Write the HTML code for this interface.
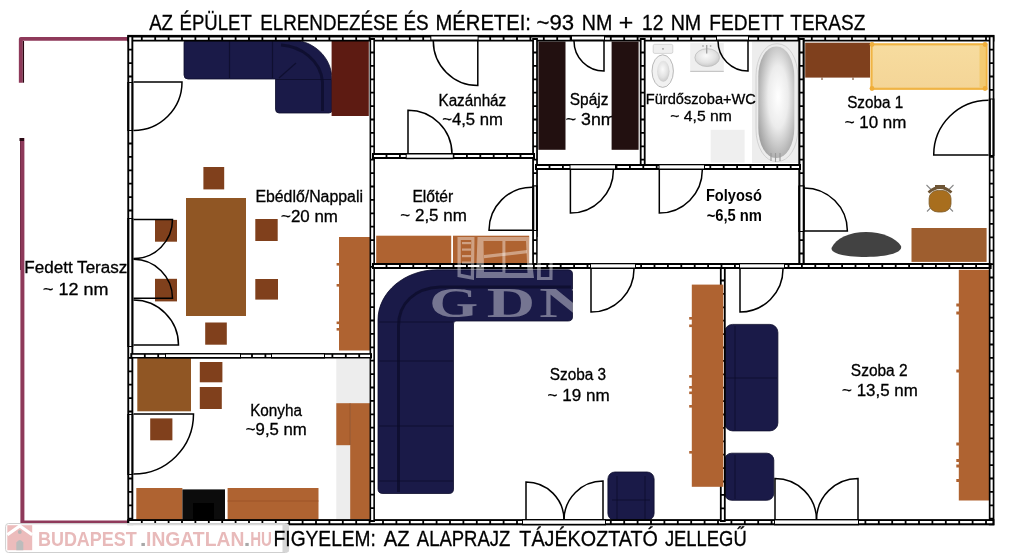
<!DOCTYPE html>
<html><head><meta charset="utf-8"><title>Alaprajz</title>
<style>html,body{margin:0;padding:0;background:#fff;} svg{display:block;will-change:transform;}</style></head>
<body><svg width="1024" height="558" viewBox="0 0 1024 558">
<rect x="0" y="0" width="1024" height="558" fill="#fff"/>
<defs>
<radialGradient id="tub" cx="55%" cy="45%" r="62%"><stop offset="0" stop-color="#ffffff"/><stop offset="0.45" stop-color="#ececec"/><stop offset="0.8" stop-color="#bdbdbd"/><stop offset="1" stop-color="#a2a2a2"/></radialGradient>
<radialGradient id="bowl" cx="50%" cy="50%" r="55%"><stop offset="0" stop-color="#f4f4f4"/><stop offset="0.6" stop-color="#dcdcdc"/><stop offset="1" stop-color="#a9a9a9"/></radialGradient>
<radialGradient id="basin" cx="45%" cy="40%" r="65%"><stop offset="0" stop-color="#fafafa"/><stop offset="0.6" stop-color="#e2e2e2"/><stop offset="1" stop-color="#c4c4c4"/></radialGradient>
<linearGradient id="bed" x1="0" y1="0" x2="0" y2="1"><stop offset="0" stop-color="#f7dc9f"/><stop offset="1" stop-color="#f4d597"/></linearGradient>
</defs>
<path d="M20.8,82.7 L20.8,38.9 L130,38.9" fill="none" stroke="#8e395a" stroke-width="3.9" stroke-linejoin="round"/>
<line x1="23.4" y1="41" x2="23.4" y2="82.7" stroke="#2a0612" stroke-width="1.3"/>
<line x1="20.6" y1="141" x2="20.6" y2="270" stroke="#4a0f24" stroke-width="1.1"/>
<path d="M22.4,138 L22.4,522.6 L131,522.6" fill="none" stroke="#8e395a" stroke-width="4"/>
<rect x="19.5" y="138" width="4.5" height="3" fill="#2a0a14"/>
<path d="M186,39.5 L289,39.5 C312,39.5 332,56 332,80 L332,110 Q332,113 329,113 L279,113 Q275.5,113 275.5,109 L275.5,79 L188,79 Q184,79 184,75 L184,43 Q184,39.5 186,39.5 Z" fill="#1a1a48" stroke="#0e0e2c" stroke-width="0.8"/>
<path d="M229.5,41 L229.5,78 M272.5,41 L272.5,78 M276,79.5 L331,79.5 M279,78 L296,63" stroke="#0c0c2a" stroke-width="1.2" fill="none" opacity="0.8"/>
<path d="M281,45 C300,46 321,60 322.5,82 L322.5,111" stroke="#0c0c2a" stroke-width="3" fill="none" opacity="0.75"/>
<path d="M186,40.5 L286,40.5" stroke="#0c0c2a" stroke-width="2" fill="none" opacity="0.5"/>
<rect x="331.60" y="40.70" width="37.20" height="75.30" fill="#5d1b12" />
<rect x="186.00" y="198.00" width="60.00" height="118.00" fill="#905624" />
<rect x="203.40" y="167.00" width="20.80" height="22.40" fill="#80401c" />
<rect x="155.00" y="219.90" width="22.00" height="21.80" fill="#80401c" />
<rect x="255.30" y="219.00" width="22.40" height="22.00" fill="#80401c" />
<rect x="155.00" y="278.80" width="22.00" height="22.60" fill="#80401c" />
<rect x="255.30" y="279.00" width="22.70" height="20.60" fill="#80401c" />
<rect x="205.20" y="322.50" width="21.60" height="22.20" fill="#80401c" />
<rect x="339.00" y="237.00" width="31.00" height="113.50" fill="#af6331" />
<rect x="336.60" y="263.00" width="2.60" height="2.60" fill="#af6331" />
<rect x="336.60" y="284.00" width="2.60" height="2.60" fill="#af6331" />
<rect x="336.60" y="321.50" width="2.60" height="2.60" fill="#af6331" />
<rect x="336.60" y="328.00" width="2.60" height="2.60" fill="#af6331" />
<rect x="137.30" y="358.00" width="53.70" height="53.30" fill="#905624" />
<rect x="199.80" y="362.00" width="22.60" height="20.30" fill="#80401c" />
<rect x="199.80" y="387.00" width="22.00" height="22.00" fill="#80401c" />
<rect x="150.20" y="418.40" width="22.20" height="21.90" fill="#80401c" />
<rect x="336.30" y="358.70" width="33.30" height="161.30" fill="#ededed" />
<rect x="336.30" y="403.20" width="13.90" height="42.00" fill="#af6331" />
<rect x="350.20" y="403.20" width="20.00" height="116.20" fill="#af6331" />
<line x1="350.2" y1="403.2" x2="350.2" y2="445" stroke="#8a4a22" stroke-width="0.8"/>
<rect x="136.30" y="488.00" width="46.10" height="32.00" fill="#af6331" />
<rect x="182.40" y="489.40" width="42.60" height="30.60" fill="#0c0c0c" />
<rect x="193.00" y="503.00" width="21.00" height="17.00" fill="#000" />
<rect x="227.60" y="488.00" width="90.90" height="32.00" fill="#af6331" />
<line x1="227.6" y1="501" x2="318.5" y2="501" stroke="#9a5226" stroke-width="0.8"/>
<rect x="538.40" y="41.50" width="27.10" height="108.30" fill="#221010" />
<rect x="752.00" y="41.50" width="46.50" height="121.50" fill="#ededed" />
<rect x="756" y="43.8" width="41.8" height="117.7" rx="20" ry="32" fill="#ececec" stroke="#c6c6c6" stroke-width="0.7"/>
<rect x="758.3" y="46.5" width="36" height="111.5" rx="17.5" ry="30" fill="url(#tub)"/>
<path d="M771,153 L771,161 M775.5,153 L775.5,162 M780,153 L780,161" stroke="#9a9a9a" stroke-width="1.1"/>
<rect x="710.70" y="129.80" width="33.90" height="32.80" fill="#efefef" />
<rect x="690.20" y="43.10" width="33.60" height="27.70" fill="#efefef" />
<line x1="690.2" y1="71.3" x2="723.8" y2="71.3" stroke="#b0b0b0" stroke-width="0.9"/>
<ellipse cx="707.2" cy="57.6" rx="12.3" ry="8.9" fill="url(#basin)" stroke="#bdbdbd" stroke-width="0.8"/>
<line x1="706.7" y1="45" x2="706.7" y2="53.5" stroke="#a0a0a0" stroke-width="1.3"/>
<circle cx="703" cy="46" r="0.9" fill="#b0b0b0"/><circle cx="710.6" cy="46" r="0.9" fill="#b0b0b0"/>
<rect x="653.2" y="44.3" width="19.6" height="9.1" rx="1.5" fill="#efefef" stroke="#c8c8c8" stroke-width="0.7"/>
<circle cx="663" cy="48.8" r="0.9" fill="#9a9a9a"/>
<ellipse cx="662.7" cy="71.1" rx="10.7" ry="16.3" fill="#f1f1f1" stroke="#a8a8a8" stroke-width="0.8"/>
<ellipse cx="663.3" cy="71.3" rx="6.2" ry="10.5" fill="url(#basin)"/>
<rect x="805.20" y="42.70" width="64.80" height="34.90" fill="#7f401d" />
<rect x="871.5" y="44.3" width="115" height="44.5" fill="url(#bed)" stroke="#f0b444" stroke-width="2.2"/>
<rect x="979.5" y="45.5" width="6" height="42" fill="#f3c768" opacity="0.8"/>
<circle cx="872" cy="44.5" r="2.4" fill="#f0ae3a"/>
<circle cx="872" cy="88.5" r="2.4" fill="#f0ae3a"/>
<circle cx="985" cy="44.5" r="2.4" fill="#f0ae3a"/>
<circle cx="985" cy="88.5" r="2.4" fill="#f0ae3a"/>
<path d="M822,77.6 L822,80 M853,77.6 L853,80" stroke="#6a3a1a" stroke-width="1"/>
<path d="M831.5,248 C836,238 850,232 866,232 C882,232 896,238 901,246 C903,252 890,256.5 866,257 C846,257 831,254 831.5,248 Z" fill="#424242"/>
<rect x="911.50" y="228.00" width="75.10" height="33.90" fill="#9e5e2f" />
<path d="M926.5,185 L931,189.5 M953.5,185 L949,189.5 M927,211.5 L930.5,208 M953,211.5 L949.5,208" stroke="#8a8a8a" stroke-width="1.1"/>
<rect x="929.1" y="190.4" width="21.9" height="21.6" rx="9" ry="8" fill="#a86e1e" stroke="#7b5a2a" stroke-width="0.8"/>
<path d="M928.5,192.5 Q940,182.5 951.5,192.5" stroke="#6e5535" stroke-width="2.8" fill="none"/>
<path d="M935,186 L945,186" stroke="#6e5535" stroke-width="2"/>
<rect x="376.20" y="235.70" width="75.00" height="27.90" fill="#af6331" />
<rect x="453.00" y="235.70" width="76.20" height="27.90" fill="#af6331" />
<path d="M437,269.8 L568,269.8 Q572.5,269.8 572.5,274 L572.5,317 Q572.5,321 568,321 L456,321 Q453.5,321 453.5,324 L453.5,489 Q453.5,493.5 449,493.5 L383,493.5 Q378,493.5 378,489 L378,320 C378,292 405,269.8 437,269.8 Z" fill="#1a1a48" stroke="#0e0e2c" stroke-width="0.8"/>
<path d="M398.5,492 L398.5,326 C398.5,303 415,288 440,287 L571,287" stroke="#0c0c2a" stroke-width="3" fill="none" opacity="0.75"/>
<path d="M379,322 L453,322 M379,361 L453,361 M379,426 L453,426 M379,481 L453,481" stroke="#0c0c2a" stroke-width="1.2" fill="none" opacity="0.7"/>
<rect x="607.9" y="472" width="46.2" height="48.4" rx="7" fill="#1a1a48" stroke="#0e0e2c" stroke-width="0.8"/>
<path d="M612,500 L650,500 M617,476 L617,519 M645,476 L645,519" stroke="#0c0c2a" stroke-width="1" fill="none" opacity="0.7"/>
<rect x="724.6" y="324.4" width="53.3" height="106.5" rx="8" fill="#1a1a48" stroke="#0e0e2c" stroke-width="0.8"/>
<path d="M725,378 L777,378 M735,326 L735,430" stroke="#0c0c2a" stroke-width="1" fill="none" opacity="0.7"/>
<rect x="724.6" y="453.2" width="49.2" height="47.1" rx="7" fill="#1a1a48" stroke="#0e0e2c" stroke-width="0.8"/>
<path d="M735,455 L735,499" stroke="#0c0c2a" stroke-width="1" fill="none" opacity="0.7"/>
<rect x="958.80" y="269.80" width="30.50" height="230.70" fill="#af6331" />
<rect x="956.30" y="303.50" width="2.70" height="3.00" fill="#af6331" />
<rect x="956.30" y="311.50" width="2.70" height="3.00" fill="#af6331" />
<rect x="956.30" y="369.50" width="2.70" height="3.00" fill="#af6331" />
<rect x="956.30" y="442.50" width="2.70" height="3.00" fill="#af6331" />
<rect x="956.30" y="459.00" width="2.70" height="3.00" fill="#af6331" />
<rect x="956.30" y="464.50" width="2.70" height="3.00" fill="#af6331" />
<rect x="956.30" y="479.00" width="2.70" height="3.00" fill="#af6331" />
<rect x="127.30" y="34.90" width="867.10" height="6.60" fill="#000" />
<line x1="129.30" y1="38.70" x2="992.40" y2="38.70" stroke="#fff" stroke-width="2.2" stroke-dasharray="11.6 1.8"/>
<rect x="127.30" y="35.20" width="6.00" height="490.10" fill="#000" />
<line x1="130.30" y1="37.20" x2="130.30" y2="523.30" stroke="#fff" stroke-width="2.2" stroke-dasharray="11.6 1.8"/>
<rect x="988.80" y="35.20" width="5.60" height="490.10" fill="#000" />
<line x1="991.60" y1="37.20" x2="991.60" y2="523.30" stroke="#fff" stroke-width="2.2" stroke-dasharray="11.6 1.8"/>
<rect x="127.30" y="519.10" width="867.10" height="6.20" fill="#000" />
<line x1="129.30" y1="522.20" x2="992.40" y2="522.20" stroke="#fff" stroke-width="2.2" stroke-dasharray="11.6 1.8"/>
<rect x="369.55" y="38.00" width="5.40" height="484.00" fill="#000" />
<line x1="372.25" y1="40.00" x2="372.25" y2="520.00" stroke="#fff" stroke-width="2.2" stroke-dasharray="11.6 1.8"/>
<rect x="532.20" y="38.00" width="5.70" height="228.00" fill="#000" />
<line x1="535.05" y1="40.00" x2="535.05" y2="264.00" stroke="#fff" stroke-width="2.2" stroke-dasharray="11.6 1.8"/>
<rect x="639.80" y="38.00" width="5.80" height="129.00" fill="#000" />
<line x1="642.70" y1="40.00" x2="642.70" y2="165.00" stroke="#fff" stroke-width="2.2" stroke-dasharray="11.6 1.8"/>
<rect x="798.30" y="38.00" width="6.40" height="228.00" fill="#000" />
<line x1="801.50" y1="40.00" x2="801.50" y2="264.00" stroke="#fff" stroke-width="2.2" stroke-dasharray="11.6 1.8"/>
<rect x="719.90" y="266.00" width="5.80" height="256.00" fill="#000" />
<line x1="722.80" y1="268.00" x2="722.80" y2="520.00" stroke="#fff" stroke-width="2.2" stroke-dasharray="11.6 1.8"/>
<rect x="372.00" y="153.00" width="163.00" height="6.00" fill="#000" />
<line x1="374.00" y1="156.00" x2="533.00" y2="156.00" stroke="#fff" stroke-width="2.2" stroke-dasharray="11.6 1.8"/>
<rect x="535.00" y="164.00" width="266.00" height="6.00" fill="#000" />
<line x1="537.00" y1="167.00" x2="799.00" y2="167.00" stroke="#fff" stroke-width="2.2" stroke-dasharray="11.6 1.8"/>
<rect x="372.00" y="263.00" width="619.60" height="6.00" fill="#000" />
<line x1="374.00" y1="266.00" x2="989.60" y2="266.00" stroke="#fff" stroke-width="2.2" stroke-dasharray="11.6 1.8"/>
<rect x="130.30" y="353.10" width="241.70" height="5.40" fill="#000" />
<line x1="132.30" y1="355.80" x2="370.00" y2="355.80" stroke="#fff" stroke-width="2.2" stroke-dasharray="11.6 1.8"/>
<rect x="691.80" y="284.60" width="31.50" height="202.20" fill="#af6331" />
<rect x="689.20" y="317.00" width="2.80" height="2.60" fill="#af6331" />
<rect x="689.20" y="324.50" width="2.80" height="2.60" fill="#af6331" />
<rect x="689.20" y="375.00" width="2.80" height="2.60" fill="#af6331" />
<rect x="689.20" y="386.00" width="2.80" height="2.60" fill="#af6331" />
<rect x="689.20" y="391.50" width="2.80" height="2.60" fill="#af6331" />
<rect x="689.20" y="405.00" width="2.80" height="2.60" fill="#af6331" />
<rect x="689.20" y="451.00" width="2.80" height="2.60" fill="#af6331" />
<rect x="127.30" y="82.00" width="6.00" height="49.00" fill="#000" />
<rect x="129.40" y="83.00" width="1.90" height="47.00" fill="#fff" />
<rect x="127.30" y="218.00" width="6.00" height="129.00" fill="#000" />
<rect x="129.40" y="219.00" width="1.90" height="127.00" fill="#fff" />
<rect x="127.30" y="414.00" width="6.00" height="61.00" fill="#000" />
<rect x="129.40" y="415.00" width="1.90" height="59.00" fill="#fff" />
<rect x="430.30" y="35.20" width="48.30" height="5.80" fill="#000" />
<rect x="431.30" y="36.50" width="46.30" height="3.00" fill="#fff" />
<rect x="571.00" y="35.20" width="34.00" height="5.80" fill="#000" />
<rect x="572.00" y="36.50" width="32.00" height="3.00" fill="#fff" />
<rect x="716.00" y="35.20" width="33.00" height="5.80" fill="#000" />
<rect x="717.00" y="36.50" width="31.00" height="3.00" fill="#fff" />
<rect x="405.70" y="153.20" width="48.10" height="6.00" fill="#000" />
<rect x="406.70" y="154.50" width="46.10" height="3.20" fill="#fff" />
<rect x="532.20" y="185.50" width="5.70" height="45.50" fill="#000" />
<rect x="534.30" y="186.50" width="1.60" height="43.50" fill="#fff" />
<rect x="569.50" y="164.00" width="46.50" height="6.00" fill="#000" />
<rect x="570.50" y="165.30" width="44.50" height="3.20" fill="#fff" />
<rect x="658.50" y="164.00" width="46.50" height="6.00" fill="#000" />
<rect x="659.50" y="165.30" width="44.50" height="3.20" fill="#fff" />
<rect x="798.30" y="185.50" width="6.40" height="46.50" fill="#000" />
<rect x="800.40" y="186.50" width="2.30" height="44.50" fill="#fff" />
<rect x="988.80" y="98.50" width="5.60" height="57.50" fill="#000" />
<rect x="990.90" y="99.50" width="1.50" height="55.50" fill="#fff" />
<rect x="590.00" y="263.00" width="46.00" height="6.00" fill="#000" />
<rect x="591.00" y="264.30" width="44.00" height="3.20" fill="#fff" />
<rect x="739.00" y="263.00" width="46.00" height="6.00" fill="#000" />
<rect x="740.00" y="264.30" width="44.00" height="3.20" fill="#fff" />
<rect x="522.00" y="519.10" width="84.00" height="6.20" fill="#000" />
<rect x="523.00" y="520.40" width="82.00" height="3.40" fill="#fff" />
<rect x="774.00" y="519.10" width="85.00" height="6.20" fill="#000" />
<rect x="775.00" y="520.40" width="83.00" height="3.40" fill="#fff" />
<rect x="165.00" y="353.10" width="76.00" height="5.40" fill="#000" />
<rect x="166.00" y="354.40" width="74.00" height="2.60" fill="#fff" />
<rect x="271.00" y="353.10" width="54.00" height="5.40" fill="#000" />
<rect x="272.00" y="354.40" width="52.00" height="2.60" fill="#fff" />
<path d="M133.50,82.00 L182.00,82.00 A48.50,48.50 0 0 1 133.50,130.50" fill="none" stroke="#000" stroke-width="1.5"/>
<path d="M133.50,219.60 L172.50,219.60 A39.00,39.00 0 0 1 133.50,258.60" fill="none" stroke="#000" stroke-width="1.5"/>
<path d="M133.50,298.30 L172.50,298.30 A39.00,39.00 0 0 0 133.50,259.30" fill="none" stroke="#000" stroke-width="1.5"/>
<path d="M133.50,345.00 L178.50,345.00 A45.00,45.00 0 0 0 133.50,300.00" fill="none" stroke="#000" stroke-width="1.5"/>
<path d="M133.50,414.00 L193.50,414.00 A60.00,60.00 0 0 1 133.50,474.00" fill="none" stroke="#000" stroke-width="1.5"/>
<path d="M477.80,41.00 L477.80,85.50 A44.50,44.50 0 0 1 433.30,41.00" fill="none" stroke="#000" stroke-width="1.5"/>
<path d="M408.00,154.00 L408.00,110.20 A43.80,43.80 0 0 1 452.00,154.00" fill="none" stroke="#000" stroke-width="1.5"/>
<path d="M604.00,41.00 L604.00,71.00 A30.00,30.00 0 0 1 574.00,41.00" fill="none" stroke="#000" stroke-width="1.5"/>
<path d="M748.00,41.00 L748.00,71.00 A30.00,30.00 0 0 1 718.00,41.00" fill="none" stroke="#000" stroke-width="1.5"/>
<path d="M532.00,230.30 L489.00,230.30 A43.00,43.00 0 0 1 532.00,187.30" fill="none" stroke="#000" stroke-width="1.5"/>
<path d="M570.40,170.00 L570.40,213.00 A43.00,43.00 0 0 0 613.40,170.00" fill="none" stroke="#000" stroke-width="1.5"/>
<path d="M659.30,170.00 L659.30,213.00 A43.00,43.00 0 0 0 702.30,170.00" fill="none" stroke="#000" stroke-width="1.5"/>
<path d="M804.30,231.00 L847.40,231.00 A43.10,43.10 0 0 0 804.30,187.90" fill="none" stroke="#000" stroke-width="1.5"/>
<path d="M988.50,155.00 L933.70,155.00 A54.80,54.80 0 0 1 988.50,100.20" fill="none" stroke="#000" stroke-width="1.5"/>
<path d="M591.00,269.00 L591.00,312.00 A43.00,43.00 0 0 0 634.00,269.00" fill="none" stroke="#000" stroke-width="1.5"/>
<path d="M740.00,269.00 L740.00,312.00 A43.00,43.00 0 0 0 783.00,269.00" fill="none" stroke="#000" stroke-width="1.5"/>
<path d="M526.00,520.00 L526.00,482.00 A38.00,38.00 0 0 1 564.00,520.00" fill="none" stroke="#000" stroke-width="1.5"/>
<path d="M603.00,520.00 L603.00,481.00 A39.00,39.00 0 0 0 564.00,520.00" fill="none" stroke="#000" stroke-width="1.5"/>
<path d="M775.00,520.00 L775.00,478.50 A41.50,41.50 0 0 1 816.50,520.00" fill="none" stroke="#000" stroke-width="1.5"/>
<path d="M858.00,520.00 L858.00,478.50 A41.50,41.50 0 0 0 816.50,520.00" fill="none" stroke="#000" stroke-width="1.5"/>
<text x="149.15" y="29.60" font-family="Liberation Sans, sans-serif" font-size="22.5" fill="#000" stroke="#000" stroke-width="0.3" textLength="23.91" lengthAdjust="spacingAndGlyphs">AZ</text>
<text x="179.60" y="29.60" font-family="Liberation Sans, sans-serif" font-size="22.5" fill="#000" stroke="#000" stroke-width="0.3" textLength="72.18" lengthAdjust="spacingAndGlyphs">ÉPÜLET</text>
<text x="260.15" y="29.60" font-family="Liberation Sans, sans-serif" font-size="22.5" fill="#000" stroke="#000" stroke-width="0.3" textLength="138.03" lengthAdjust="spacingAndGlyphs">ELRENDEZÉSE</text>
<text x="403.45" y="29.60" font-family="Liberation Sans, sans-serif" font-size="22.5" fill="#000" stroke="#000" stroke-width="0.3" textLength="25.25" lengthAdjust="spacingAndGlyphs">ÉS</text>
<text x="435.50" y="29.60" font-family="Liberation Sans, sans-serif" font-size="22.5" fill="#000" stroke="#000" stroke-width="0.3" textLength="95.39" lengthAdjust="spacingAndGlyphs">MÉRETEI:</text>
<text x="536.55" y="29.60" font-family="Liberation Sans, sans-serif" font-size="22.5" fill="#000" stroke="#000" stroke-width="0.3" textLength="37.57" lengthAdjust="spacingAndGlyphs">~93</text>
<text x="581.75" y="29.60" font-family="Liberation Sans, sans-serif" font-size="22.5" fill="#000" stroke="#000" stroke-width="0.3" textLength="30.58" lengthAdjust="spacingAndGlyphs">NM</text>
<text x="618.80" y="29.60" font-family="Liberation Sans, sans-serif" font-size="22.5" fill="#000" stroke="#000" stroke-width="0.3" textLength="14.51" lengthAdjust="spacingAndGlyphs">+</text>
<text x="641.95" y="29.60" font-family="Liberation Sans, sans-serif" font-size="22.5" fill="#000" stroke="#000" stroke-width="0.3" textLength="21.40" lengthAdjust="spacingAndGlyphs">12</text>
<text x="670.65" y="29.60" font-family="Liberation Sans, sans-serif" font-size="22.5" fill="#000" stroke="#000" stroke-width="0.3" textLength="30.58" lengthAdjust="spacingAndGlyphs">NM</text>
<text x="709.30" y="29.60" font-family="Liberation Sans, sans-serif" font-size="22.5" fill="#000" stroke="#000" stroke-width="0.3" textLength="74.48" lengthAdjust="spacingAndGlyphs">FEDETT</text>
<text x="790.25" y="29.60" font-family="Liberation Sans, sans-serif" font-size="22.5" fill="#000" stroke="#000" stroke-width="0.3" textLength="75.11" lengthAdjust="spacingAndGlyphs">TERASZ</text>
<text x="24.35" y="273.00" font-family="Liberation Sans, sans-serif" font-size="16" fill="#000" stroke="#000" stroke-width="0.3" textLength="102.98" lengthAdjust="spacingAndGlyphs">Fedett Terasz</text>
<text x="43.10" y="294.50" font-family="Liberation Sans, sans-serif" font-size="16" fill="#000" stroke="#000" stroke-width="0.3" textLength="65.27" lengthAdjust="spacingAndGlyphs">~ 12 nm</text>
<text x="255.40" y="202.00" font-family="Liberation Sans, sans-serif" font-size="16" fill="#000" stroke="#000" stroke-width="0.3" textLength="107.54" lengthAdjust="spacingAndGlyphs">Ebédlő/Nappali</text>
<text x="281.10" y="221.60" font-family="Liberation Sans, sans-serif" font-size="16" fill="#000" stroke="#000" stroke-width="0.3" textLength="56.82" lengthAdjust="spacingAndGlyphs">~20 nm</text>
<text x="438.50" y="105.50" font-family="Liberation Sans, sans-serif" font-size="16" fill="#000" stroke="#000" stroke-width="0.3" textLength="67.68" lengthAdjust="spacingAndGlyphs">Kazánház</text>
<text x="442.15" y="125.00" font-family="Liberation Sans, sans-serif" font-size="16" fill="#000" stroke="#000" stroke-width="0.3" textLength="60.82" lengthAdjust="spacingAndGlyphs">~4,5 nm</text>
<text x="569.80" y="105.00" font-family="Liberation Sans, sans-serif" font-size="16" fill="#000" stroke="#000" stroke-width="0.3" textLength="38.57" lengthAdjust="spacingAndGlyphs">Spájz</text>
<text x="565.80" y="124.90" font-family="Liberation Sans, sans-serif" font-size="16" fill="#000" stroke="#000" stroke-width="0.3" textLength="49.78" lengthAdjust="spacingAndGlyphs">~ 3nm</text>
<rect x="611.60" y="41.50" width="27.00" height="108.30" fill="#221010" />
<text x="645.80" y="103.50" font-family="Liberation Sans, sans-serif" font-size="15.5" fill="#000" stroke="#000" stroke-width="0.3" textLength="110.12" lengthAdjust="spacingAndGlyphs">Fürdőszoba+WC</text>
<text x="670.30" y="120.70" font-family="Liberation Sans, sans-serif" font-size="15.5" fill="#000" stroke="#000" stroke-width="0.3" textLength="61.48" lengthAdjust="spacingAndGlyphs">~ 4,5 nm</text>
<text x="847.20" y="107.90" font-family="Liberation Sans, sans-serif" font-size="16" fill="#000" stroke="#000" stroke-width="0.3" textLength="55.97" lengthAdjust="spacingAndGlyphs">Szoba 1</text>
<text x="844.70" y="127.70" font-family="Liberation Sans, sans-serif" font-size="16" fill="#000" stroke="#000" stroke-width="0.3" textLength="61.73" lengthAdjust="spacingAndGlyphs">~ 10 nm</text>
<text x="412.40" y="201.80" font-family="Liberation Sans, sans-serif" font-size="16" fill="#000" stroke="#000" stroke-width="0.3" textLength="40.83" lengthAdjust="spacingAndGlyphs">Előtér</text>
<text x="400.30" y="221.10" font-family="Liberation Sans, sans-serif" font-size="16" fill="#000" stroke="#000" stroke-width="0.3" textLength="66.58" lengthAdjust="spacingAndGlyphs">~ 2,5 nm</text>
<text x="705.95" y="200.50" font-family="Liberation Sans, sans-serif" font-size="16" font-weight="bold" fill="#000" stroke="#000" stroke-width="0" textLength="55.98" lengthAdjust="spacingAndGlyphs">Folyosó</text>
<text x="706.65" y="220.50" font-family="Liberation Sans, sans-serif" font-size="16" font-weight="bold" fill="#000" stroke="#000" stroke-width="0" textLength="55.33" lengthAdjust="spacingAndGlyphs">~6,5 nm</text>
<text x="250.15" y="416.00" font-family="Liberation Sans, sans-serif" font-size="16" fill="#000" stroke="#000" stroke-width="0.3" textLength="51.81" lengthAdjust="spacingAndGlyphs">Konyha</text>
<text x="245.80" y="435.30" font-family="Liberation Sans, sans-serif" font-size="16" fill="#000" stroke="#000" stroke-width="0.3" textLength="60.98" lengthAdjust="spacingAndGlyphs">~9,5 nm</text>
<text x="549.80" y="380.30" font-family="Liberation Sans, sans-serif" font-size="16" fill="#000" stroke="#000" stroke-width="0.3" textLength="56.37" lengthAdjust="spacingAndGlyphs">Szoba 3</text>
<text x="547.60" y="400.50" font-family="Liberation Sans, sans-serif" font-size="16" fill="#000" stroke="#000" stroke-width="0.3" textLength="62.12" lengthAdjust="spacingAndGlyphs">~ 19 nm</text>
<text x="850.85" y="375.80" font-family="Liberation Sans, sans-serif" font-size="16" fill="#000" stroke="#000" stroke-width="0.3" textLength="56.77" lengthAdjust="spacingAndGlyphs">Szoba 2</text>
<text x="842.10" y="395.80" font-family="Liberation Sans, sans-serif" font-size="16" fill="#000" stroke="#000" stroke-width="0.3" textLength="75.62" lengthAdjust="spacingAndGlyphs">~ 13,5 nm</text>
<g fill="#fff" fill-opacity="0.4">
<text x="429.25" y="317.3" font-family="Liberation Serif, serif" font-weight="bold" font-size="43" textLength="48.95" lengthAdjust="spacingAndGlyphs">G</text>
<text x="486.75" y="317.3" font-family="Liberation Serif, serif" font-weight="bold" font-size="43" textLength="48.37" lengthAdjust="spacingAndGlyphs">D</text>
<text x="539.25" y="317.3" font-family="Liberation Serif, serif" font-weight="bold" font-size="43" textLength="49.59" lengthAdjust="spacingAndGlyphs">N</text>
<path fill-rule="evenodd" d="M457.5,237 L474.5,237 L474,280 L457.5,277 Z M460.8,240 L471.3,240 L470.8,275.8 L460.8,273.8 Z"/>
<rect x="462" y="242" width="9" height="2.2"/>
<rect x="462" y="248.5" width="9" height="2.2"/>
<rect x="462" y="255" width="9" height="2.2"/>
<rect x="462" y="261.5" width="9" height="2.2"/>
<path fill-rule="evenodd" d="M477.5,237 L529,237 L534,278 L476,278 Z M483.5,241 L502.4,241 L502.4,272 L484,272 Z M505.4,241 L526,241 L527.5,273 L505.4,273 Z"/>
<path d="M484,255 L527,250 L527,253.2 L484,258.2 Z"/>
<path fill-rule="evenodd" d="M537.5,237 L553,237 L552.5,280 L537,280 Z M540.8,240 L549.8,240 L549.3,277 L540.8,277 Z"/>
</g>
<rect x="5.6" y="523.5" width="283" height="29" rx="3" fill="#fff" fill-opacity="0.85" stroke="#cfcfcf" stroke-width="1"/>
<rect x="282.5" y="524" width="6" height="28" fill="#d6d6d6"/>
<rect x="7.3" y="525.2" width="24.9" height="25" fill="#ecbcbc"/>
<path d="M7.3,534.8 L19.8,526 L32.2,534.8" fill="none" stroke="#fff" stroke-width="3.2"/>
<circle cx="19.8" cy="532" r="1.9" fill="#b5b5b5"/>
<path d="M16.3,550.2 L16.3,542.5 Q19.8,537.5 23.3,542.5 L23.3,550.2 Z" fill="#bcbcbc"/>

<text x="37.90" y="545.50" font-family="Liberation Sans, sans-serif" font-size="21" font-weight="bold" fill="#e8baba" stroke="#e8baba" stroke-width="0" textLength="98.97" lengthAdjust="spacingAndGlyphs">BUDAPEST</text>
<text x="139.70" y="545.50" font-family="Liberation Sans, sans-serif" font-size="21" font-weight="bold" fill="#a8a8a8" stroke="#a8a8a8" stroke-width="0" textLength="6.86" lengthAdjust="spacingAndGlyphs">.</text>
<text x="146.05" y="545.50" font-family="Liberation Sans, sans-serif" font-size="21" font-weight="bold" fill="#e8baba" stroke="#e8baba" stroke-width="0" textLength="98.30" lengthAdjust="spacingAndGlyphs">INGATLAN</text>
<text x="243.80" y="545.50" font-family="Liberation Sans, sans-serif" font-size="21" font-weight="bold" fill="#a8a8a8" stroke="#a8a8a8" stroke-width="0" textLength="6.56" lengthAdjust="spacingAndGlyphs">.</text>
<text x="250.15" y="545.50" font-family="Liberation Sans, sans-serif" font-size="21" font-weight="bold" fill="#e8baba" stroke="#e8baba" stroke-width="0" textLength="21.78" lengthAdjust="spacingAndGlyphs">HU</text>
<text x="273.60" y="545.60" font-family="Liberation Sans, sans-serif" font-size="22.5" fill="#000" stroke="#000" stroke-width="0.3" textLength="102.33" lengthAdjust="spacingAndGlyphs">FIGYELEM:</text>
<text x="383.80" y="545.60" font-family="Liberation Sans, sans-serif" font-size="22.5" fill="#000" stroke="#000" stroke-width="0.3" textLength="25.86" lengthAdjust="spacingAndGlyphs">AZ</text>
<text x="416.80" y="545.60" font-family="Liberation Sans, sans-serif" font-size="22.5" fill="#000" stroke="#000" stroke-width="0.3" textLength="93.55" lengthAdjust="spacingAndGlyphs">ALAPRAJZ</text>
<text x="519.35" y="545.60" font-family="Liberation Sans, sans-serif" font-size="22.5" fill="#000" stroke="#000" stroke-width="0.3" textLength="138.56" lengthAdjust="spacingAndGlyphs">TÁJÉKOZTATÓ</text>
<text x="664.90" y="545.60" font-family="Liberation Sans, sans-serif" font-size="22.5" fill="#000" stroke="#000" stroke-width="0.3" textLength="81.77" lengthAdjust="spacingAndGlyphs">JELLEGŰ</text>
</svg></body></html>
